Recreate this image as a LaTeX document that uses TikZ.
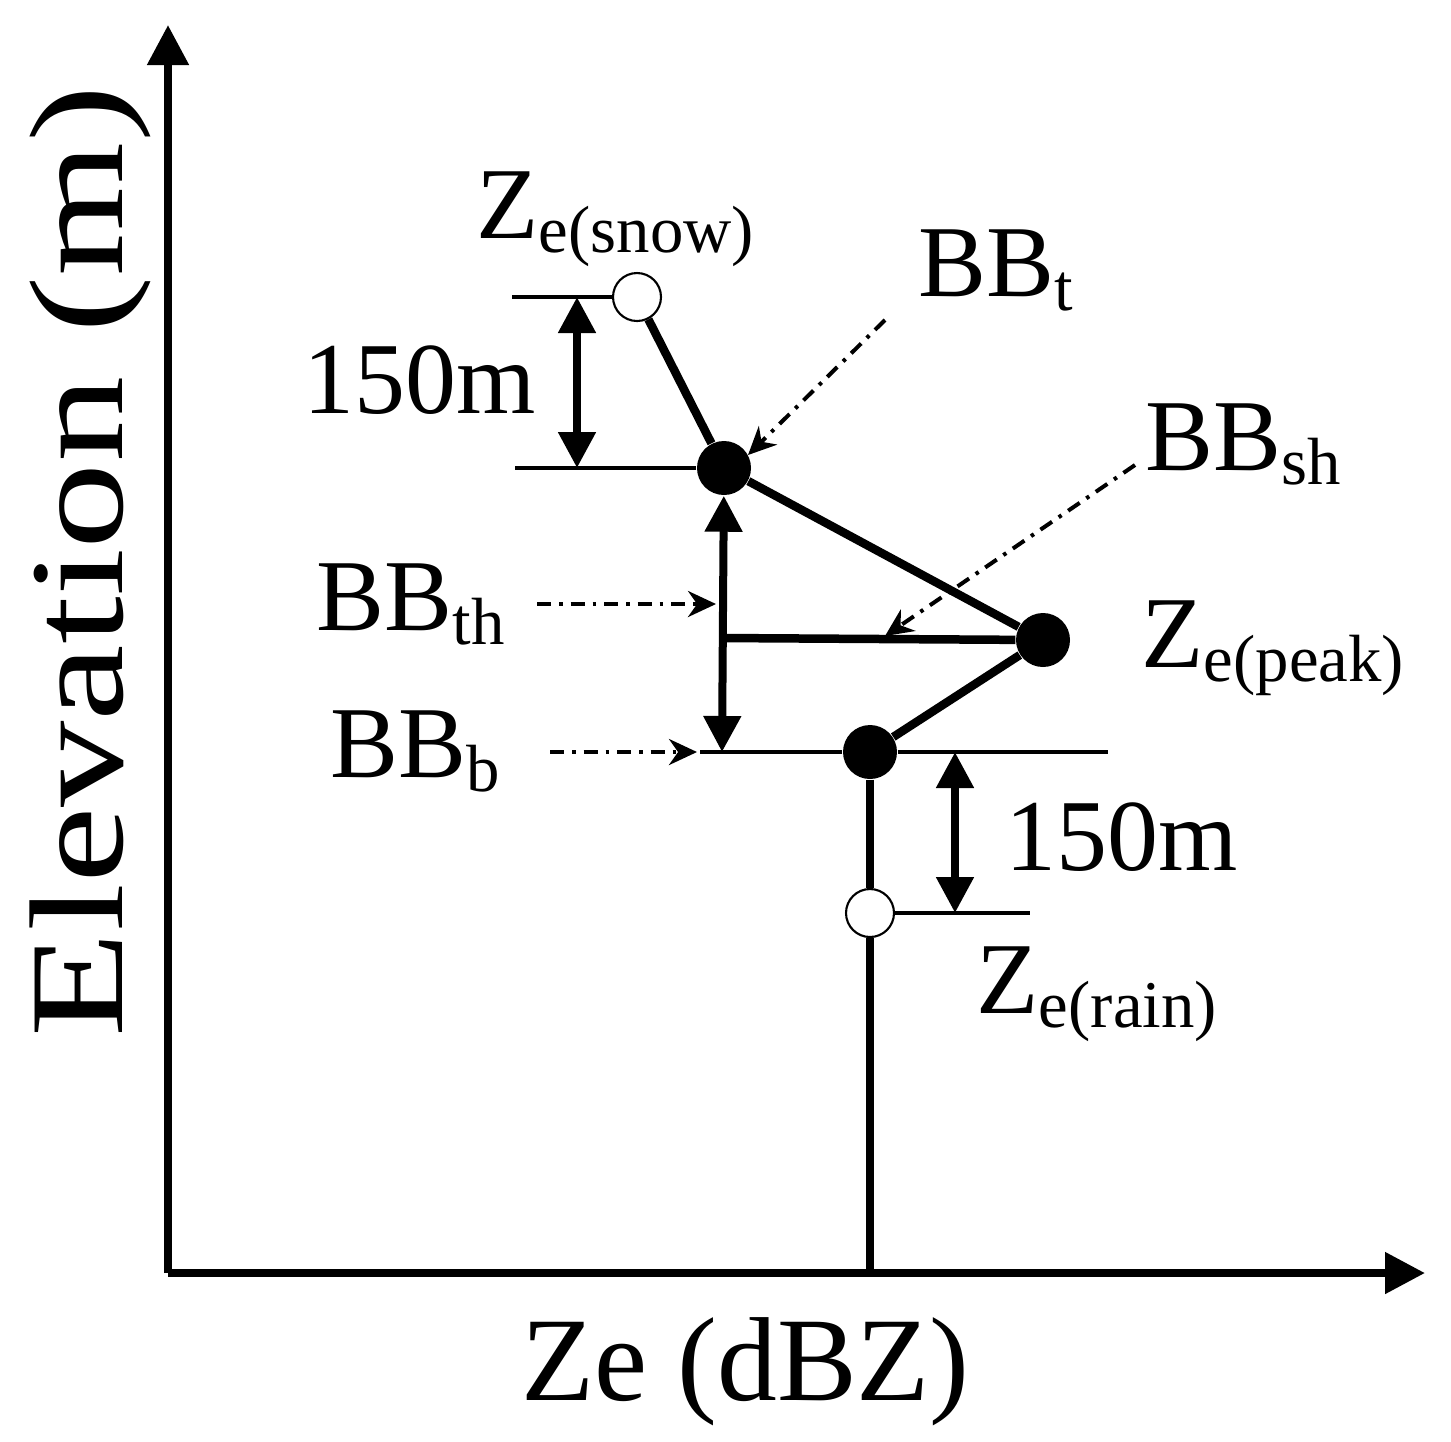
\documentclass[tikz,border=0pt]{standalone}
\usepackage{fontspec}
\setmainfont{Liberation Serif}
\usetikzlibrary{arrows.meta}
\newcommand{\lsub}[1]{\raisebox{-4pt}{\fontsize{19}{19}\selectfont #1}}

\begin{document}
\begin{tikzpicture}[x=0.1mm,y=-0.1mm,
  fdot/.style={circle,fill=black,inner sep=0pt,minimum size=5.4mm},
  odot/.style={circle,draw=black,fill=white,line width=0.6pt,inner sep=0pt,minimum size=4.8mm},
  prof/.style={line width=0.85mm},
  lvl/.style={line width=0.45mm},
  dimarr/.style={line width=0.8mm,{Triangle[length=3.6mm,width=3.6mm]}-{Triangle[length=3.6mm,width=3.6mm]}},
  ptr/.style={line width=0.4mm,dash pattern=on 1.4mm off 0.8mm on 0.35mm off 0.8mm,-{Stealth[length=2.8mm,width=2.6mm]}},
  lbl/.style={inner sep=0pt,anchor=base west,font=\fontsize{29}{29}\selectfont}]
\useasboundingbox (0,0) rectangle (1451,1441);
\coordinate (O) at (168,1273);
\coordinate (ytip) at (168,25);
\coordinate (xtip) at (1425,1273);
\draw [line width=0.8mm,-{Triangle[length=4mm,width=4mm]}] (O) -- (ytip);
\draw [line width=0.8mm,-{Triangle[length=4mm,width=4mm]}] (O) -- (xtip);
\node [odot] (snow) at (637,297) {};
\node [fdot] (BBt) at (724,468) {};
\node [fdot] (peak) at (1043,640) {};
\node [fdot] (BBb) at (870,752) {};
\node [odot] (rain) at (870,913) {};
\coordinate (foot) at (870,1273);
\coordinate (snowL) at (512,297);
\coordinate (BBtL) at (515,468);
\coordinate (BBbL) at (700,752);
\coordinate (BBbR) at (1108,752);
\coordinate (rainR) at (1030,913);
\coordinate (shL) at (722,638);
\coordinate (thB) at (722,752);
\coordinate (dimaT) at (577,297);
\coordinate (dimaB) at (577,468);
\coordinate (dimbT) at (955,752);
\coordinate (dimbB) at (955,913);
\draw [lvl] (snowL) -- (snow);
\draw [lvl] (BBtL) -- (BBt);
\draw [lvl] (BBbL) -- (BBb);
\draw [lvl] (BBb) -- (BBbR);
\draw [lvl] (rain) -- (rainR);
\draw [prof] (snow) -- (BBt);
\draw [prof] (BBt) -- (peak);
\draw [prof] (peak) -- (BBb);
\draw [prof] (BBb) -- (rain);
\draw [prof] (rain) -- (foot);
\draw [prof] (shL) -- (peak);
\draw [dimarr] (dimaT) -- (dimaB);
\draw [dimarr] (BBt) -- (thB);
\draw [dimarr] (dimbT) -- (dimbB);
\node [lbl] (l150a) at (303,413) {150m};
\node [lbl] (l150b) at (1005,870) {150m};
\node [lbl] (lsnow) at (476,238) {Z\lsub{e(snow)}};
\node [lbl] (lBBt) at (918,296) {BB\lsub{t}};
\node [lbl] (lBBsh) at (1145,470) {BB\lsub{sh}};
\node [lbl] (lpeak) at (1141,667) {Z\lsub{e(peak)}};
\node [lbl] (lBBth) at (316,630) {BB\lsub{th}};
\node [lbl] (lBBb) at (330,777) {BB\lsub{b}};
\node [lbl] (lrain) at (976,1013) {Z\lsub{e(rain)}};
\node [lbl,font=\fontsize{34}{34}\selectfont] (xlab) at (521,1400) {Ze (dBZ)};
\node [lbl,font=\fontsize{38}{38}\selectfont,rotate=90,xscale=1.29] (ylab) at (122,1038) {Elevation (m)};
\coordinate (tS) at (885,320);
\coordinate (tE) at (748,455);
\coordinate (shS) at (1135,465);
\coordinate (shE) at (885,636);
\coordinate (thS) at (537,604);
\coordinate (thE) at (716,604);
\coordinate (bS) at (550,752);
\coordinate (bE) at (697,752);
\draw [ptr] (tS) -- (tE);
\draw [ptr] (shS) -- (shE);
\draw [ptr] (thS) -- (thE);
\draw [ptr] (bS) -- (bE);
\end{tikzpicture}
\end{document}
